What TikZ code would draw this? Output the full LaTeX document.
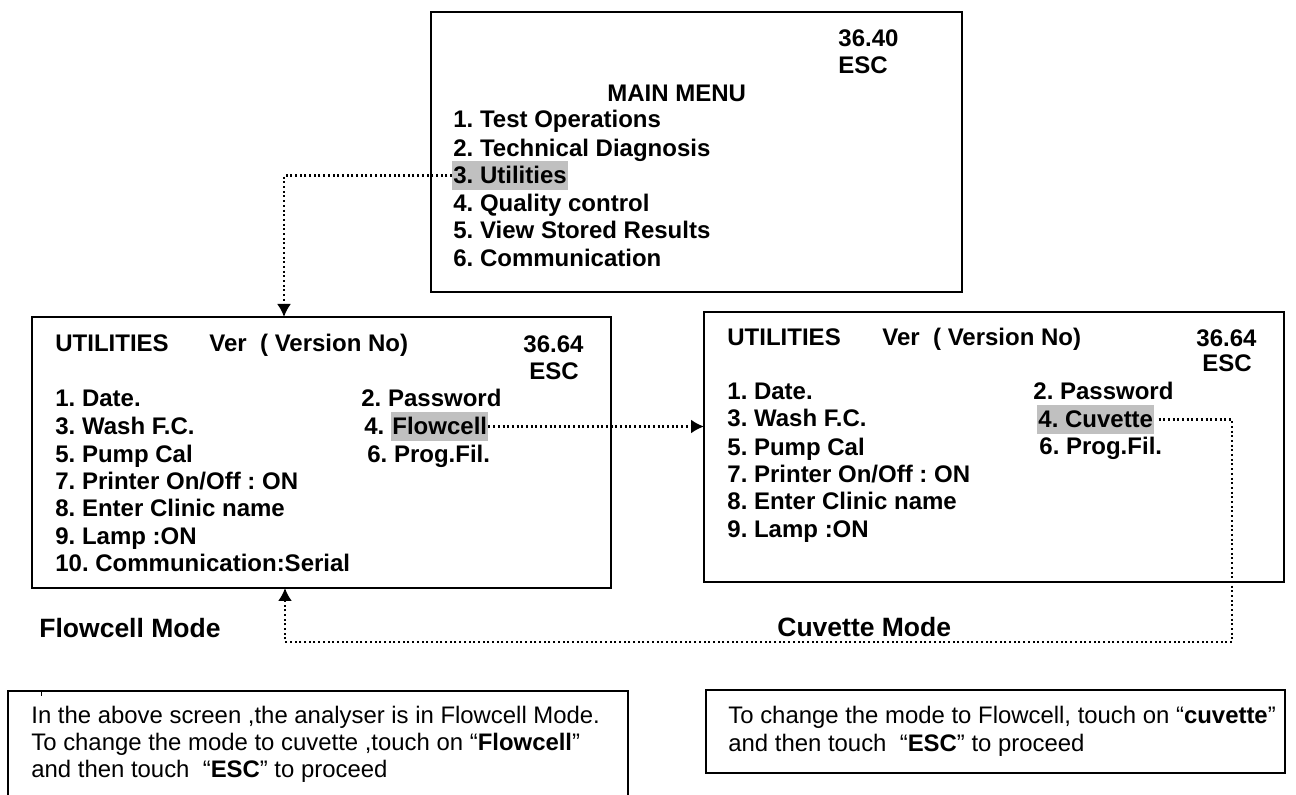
\documentclass[tikz,border=0pt]{standalone}
\usepackage{fontspec}
\setmainfont{Liberation Sans}
\usetikzlibrary{arrows.meta}
\definecolor{selgray}{RGB}{192,192,192}
\frenchspacing
\begin{document}
\begin{tikzpicture}[x=0.5pt,y=-0.5pt,
  frame/.style={draw, line width=1.25pt, inner sep=0pt, outer sep=0pt, anchor=north west},
  note/.style={draw, line width=1pt, inner sep=0pt, outer sep=0pt, anchor=north west},
  item/.style={anchor=base west, inner sep=0pt, font=\fontsize{12}{14}\selectfont\bfseries},
  sel/.style={item, fill=selgray, inner xsep=0.5pt, inner ysep=0pt, text height=11.5pt, text depth=3pt},
  mode/.style={anchor=base west, inner sep=0pt, font=\fontsize{13.25}{16}\selectfont\bfseries},
  body/.style={anchor=base west, inner sep=0pt, font=\fontsize{11.95}{14}\selectfont},
  link/.style={line width=1.1pt, dash pattern=on 1pt off 1.35pt,
    -{Latex[length=6.5pt,width=7pt]}},
]
\useasboundingbox (0,0) rectangle (1296,795);

% screen frames
\node[frame, minimum width=265.5pt, minimum height=140pt] (mainbox) at (431,12) {};
\node[frame, minimum width=289.5pt, minimum height=135.5pt] (lbox) at (32,317) {};
\node[frame, minimum width=290pt, minimum height=135pt] (rbox) at (704,312) {};

% main menu screen
\node[item] (mmver) at (838,47) {36.40};
\node[item] (mmesc) at (838,74) {ESC};
\node[item] (mmtitle) at (607,102) {MAIN MENU};
\node[item] (mm1) at (453,128) {1. Test Operations};
\node[item] (mm2) at (453,157) {2. Technical Diagnosis};
\node[sel]  (utl) at (452,184) {3. Utilities};
\node[item] (mm4) at (453,212) {4. Quality control};
\node[item] (mm5) at (453,239) {5. View Stored Results};
\node[item] (mm6) at (453,267) {6. Communication};

% utilities screen, flowcell mode
\node[item] (lt) at (55,352) {UTILITIES};
\node[item] (lv) at (209,352) {Ver~~( Version No)};
\node[item] (lver) at (523,353) {36.64};
\node[item] (lesc) at (529,380) {ESC};
\node[item] (l1) at (55,407) {1. Date.};
\node[item] (l2) at (361,407) {2. Password};
\node[item] (l3) at (55,435) {3. Wash F.C.};
\node[item] (l4) at (364,435) {4.};
\node[sel]  (flw) at (391,435) {Flowcell};
\node[item] (l5) at (55,463) {5. Pump Cal};
\node[item] (l6) at (367,463) {6. Prog.Fil.};
\node[item] (l7) at (55,490) {7. Printer On/Off : ON};
\node[item] (l8) at (55,517) {8. Enter Clinic name};
\node[item] (l9) at (55,545) {9. Lamp :ON};
\node[item] (l10) at (55,572) {10. Communication:Serial};

% utilities screen, cuvette mode
\node[item] (rt) at (727,346) {UTILITIES};
\node[item] (rv) at (882,346) {Ver~~( Version No)};
\node[item] (rver) at (1196,347) {36.64};
\node[item] (resc) at (1202,372) {ESC};
\node[item] (r1) at (727,400) {1. Date.};
\node[item] (r2) at (1033,400) {2. Password};
\node[item] (r3) at (727,427) {3. Wash F.C.};
\node[sel]  (cuv) at (1037,428) {4. Cuvette};
\node[item] (r5) at (727,456) {5. Pump Cal};
\node[item] (r6) at (1039,455) {6. Prog.Fil.};
\node[item] (r7) at (727,483) {7. Printer On/Off : ON};
\node[item] (r8) at (727,510) {8. Enter Clinic name};
\node[item] (r9) at (727,538) {9. Lamp :ON};

% mode captions
\node[mode] (fmode) at (39,638) {Flowcell Mode};
\node[mode] (cmode) at (777,637) {Cuvette Mode};

% explanation notes
\begin{scope}
  \clip (0,0) rectangle (1296,795);
  \node[note, minimum width=310pt, minimum height=70pt] (lnote) at (8,691) {};
\end{scope}
\draw[line width=0.5pt] (41,692) -- (41,696);
\node[note, minimum width=289.5pt, minimum height=41.5pt] (rnote) at (706,690) {};

\node[body] (ln1) at (31,724) {In the above screen ,the analyser is in Flowcell Mode.};
\node[body] (ln2) at (31,751) {To change the mode to cuvette ,touch on “\textbf{Flowcell}”};
\node[body] (ln3) at (31,778) {and then touch~~“\textbf{ESC}” to proceed};
\node[body] (rn1) at (728,724) {To change the mode to Flowcell, touch on “\textbf{cuvette}”};
\node[body] (rn2) at (728,752) {and then touch~~“\textbf{ESC}” to proceed};

% navigation links
\coordinate (uin) at (284,317);
\draw[link] (utl.west) -| (uin);
\draw[link] (flw.east) -- (flw.east -| rbox.west);
\coordinate (turn) at (1232,642);
\coordinate (fin) at (285,588);
\draw[link] ([xshift=2pt]cuv.east) -| (turn) -| (fin);
\end{tikzpicture}
\end{document}
